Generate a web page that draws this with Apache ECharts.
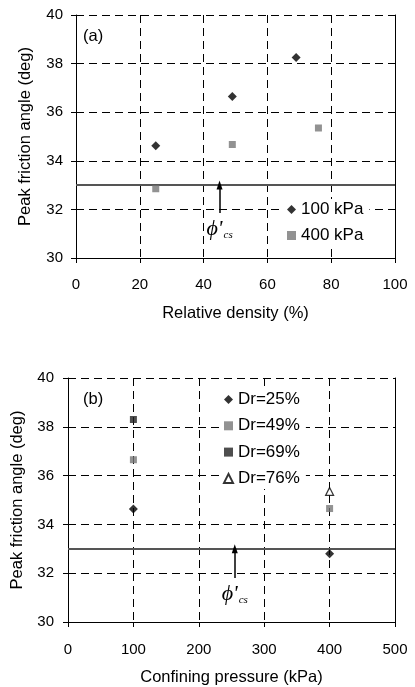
<!DOCTYPE html>
<html>
<head>
<meta charset="utf-8">
<script src="https://cdn.jsdelivr.net/npm/echarts@6/dist/echarts.min.js"></script>
<style>
    html, body { margin: 0; padding: 0; background: #fff; }
    #chart { width: 415px; height: 687px; }
</style>
</head>
<body>
<div id="chart"></div>
<script>
    // (a) peak friction angle vs relative density
    var densityTicks = [0, 20, 40, 60, 80, 100];
    var kpa100 = [[25, 34.62], [49, 36.65], [69, 38.25]];
    var kpa400 = [[25, 32.85], [49, 34.67], [76, 35.35]];
    var arrowA = [[45, 31.85], [45, 33]];

    // (b) peak friction angle vs confining pressure
    var pressureTicks = [0, 100, 200, 300, 400, 500];
    var dr25 = [[100, 34.63], [400, 32.8]];
    var dr49 = [[100, 36.65], [400, 34.65]];
    var dr69 = [[100, 38.3]];
    var dr76 = [[400, 35.35]];
    var arrowB = [[255, 31.8], [255, 33]];

    var angleTicks = [30, 32, 34, 36, 38, 40];
    var phiCs = 33;

    var font = 'Liberation Sans, Arial, sans-serif';
    var dashed = {show: true, lineStyle: {color: '#000', width: 1, type: [8, 5]}};

    function xAxisFor(gridIndex, ticks, name, margin) {
        return {
            gridIndex: gridIndex,
            type: 'value',
            min: ticks[0],
            max: ticks[ticks.length - 1],
            interval: ticks[1] - ticks[0],
            name: name,
            nameLocation: 'middle',
            nameGap: 47,
            nameTextStyle: {fontFamily: font, fontSize: 16.5, color: '#000'},
            axisLine: {show: true, onZero: false, lineStyle: {color: '#000', width: 1}},
            axisTick: {show: true, inside: false, length: 5, lineStyle: {color: '#000'}},
            axisLabel: {fontFamily: font, fontSize: 15, color: '#000', margin: margin},
            splitLine: dashed
        };
    }

    function yAxisFor(gridIndex, gap, margin) {
        return {
            gridIndex: gridIndex,
            type: 'value',
            min: angleTicks[0],
            max: angleTicks[angleTicks.length - 1],
            interval: angleTicks[1] - angleTicks[0],
            name: 'Peak friction angle (deg)',
            nameLocation: 'middle',
            nameGap: gap,
            nameTextStyle: {fontFamily: font, fontSize: 16.5, color: '#000'},
            axisLine: {show: true, onZero: false, lineStyle: {color: '#000', width: 1}},
            axisTick: {show: true, inside: false, length: 5, lineStyle: {color: '#000'}},
            axisLabel: {fontFamily: font, fontSize: 15, color: '#000', margin: margin},
            splitLine: dashed
        };
    }

    // right frame edge only
    function frameAxis(gridIndex) {
        return {
            gridIndex: gridIndex,
            type: 'value',
            position: 'right',
            min: angleTicks[0],
            max: angleTicks[angleTicks.length - 1],
            axisLine: {show: true, onZero: false, lineStyle: {color: '#000', width: 1}},
            axisTick: {show: false},
            axisLabel: {show: false},
            splitLine: {show: false}
        };
    }

    function scatter(name, data, xi, yi, symbol, size, color, border) {
        return {
            name: name,
            type: 'scatter',
            xAxisIndex: xi,
            yAxisIndex: yi,
            data: data,
            symbol: symbol,
            symbolSize: size,
            itemStyle: {
                color: color,
                borderColor: border || color,
                borderWidth: border ? 1.2 : 0
            },
            z: 5
        };
    }

    function phiLine(xi, yi, arrow) {
        return {
            type: 'line',
            xAxisIndex: xi,
            yAxisIndex: yi,
            data: [],
            silent: true,
            markLine: {
                silent: true,
                animation: false,
                symbol: ['none', 'none'],
                data: [
                    {
                        yAxis: phiCs,
                        lineStyle: {color: '#555', width: 1.8, type: 'solid'},
                        label: {show: false}
                    },
                    [
                        {
                            coord: arrow[0],
                            symbol: 'none',
                            label: {
                                show: true,
                                position: 'start',
                                distance: 5,
                                formatter: '{p|\u03d5\'}{s|cs}',
                                rich: {
                                    p: {fontFamily: 'Liberation Serif, serif', fontStyle: 'italic', fontSize: 22, color: '#000'},
                                    s: {fontFamily: 'Liberation Serif, serif', fontStyle: 'italic', fontSize: 11, color: '#000', padding: [12, 0, 0, 1]}
                                }
                            }
                        },
                        {coord: arrow[1], symbol: 'triangle', symbolSize: [6, 9]}
                    ]
                ],
                lineStyle: {color: '#000', width: 1.5, type: 'solid'}
            }
        };
    }

    var legendText = {fontFamily: font, fontSize: 17, color: '#000'};

    var option = {
        animation: false,
        backgroundColor: '#fff',
        grid: [
            {left: 76, top: 15, width: 319, height: 243},
            {left: 68, top: 378, width: 327, height: 245}
        ],
        xAxis: [
            xAxisFor(0, densityTicks, 'Relative density (%)', 19),
            xAxisFor(1, pressureTicks, 'Confining pressure (kPa)', 20)
        ],
        yAxis: [
            yAxisFor(0, 42, 13),
            frameAxis(0),
            yAxisFor(1, 41, 14),
            frameAxis(1)
        ],
        legend: [
            {
                data: ['100 kPa', '400 kPa'],
                orient: 'vertical',
                left: 283,
                top: 199,
                itemWidth: 9,
                itemHeight: 9,
                itemGap: 9,
                padding: [2, 6, 2, 4],
                backgroundColor: '#fff',
                textStyle: legendText
            },
            {
                data: ['Dr=25%', 'Dr=49%', 'Dr=69%', 'Dr=76%'],
                orient: 'vertical',
                left: 219,
                top: 389,
                itemWidth: 9,
                itemHeight: 9,
                itemGap: 9.3,
                padding: [2, 6, 2, 4],
                backgroundColor: '#fff',
                textStyle: legendText
            }
        ],
        graphic: [
            {type: 'text', left: 83, top: 28, style: {text: '(a)', font: '16.5px ' + font, fill: '#000'}},
            {type: 'text', left: 83, top: 391, style: {text: '(b)', font: '16.5px ' + font, fill: '#000'}}
        ],
        series: [
            phiLine(0, 0, arrowA),
            scatter('100 kPa', kpa100, 0, 0, 'diamond', 9, '#000'),
            scatter('400 kPa', kpa400, 0, 0, 'rect', 7, '#777'),
            phiLine(1, 2, arrowB),
            scatter('Dr=25%', dr25, 1, 2, 'diamond', 9, '#000'),
            scatter('Dr=49%', dr49, 1, 2, 'rect', 7, '#777'),
            scatter('Dr=69%', dr69, 1, 2, 'rect', 7, '#222'),
            scatter('Dr=76%', dr76, 1, 2, 'triangle', 8, '#fff', '#000')
        ]
    };

    var chart = echarts.init(document.getElementById('chart'), null, {renderer: 'canvas'});
    chart.setOption(option);
</script>
</body>
</html>
